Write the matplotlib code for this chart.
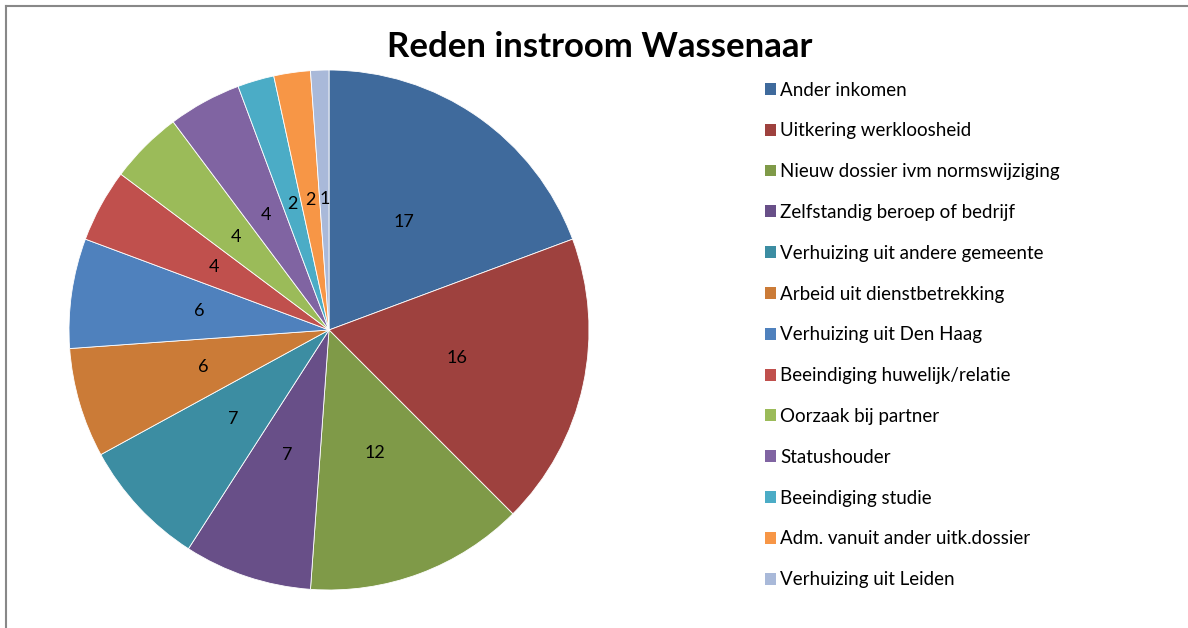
import matplotlib
matplotlib.use('Agg')
import matplotlib.pyplot as plt
from matplotlib.patches import Patch
from matplotlib.lines import Line2D

# ======================
# DATA
# ======================
categories = [
    'Ander inkomen',
    'Uitkering werkloosheid',
    'Nieuw dossier ivm normswijziging',
    'Zelfstandig beroep of bedrijf',
    'Verhuizing uit andere gemeente',
    'Arbeid uit dienstbetrekking',
    'Verhuizing uit Den Haag',
    'Beeindiging huwelijk/relatie',
    'Oorzaak bij partner',
    'Statushouder',
    'Beeindiging studie',
    'Adm. vanuit ander uitk.dossier',
    'Verhuizing uit Leiden',
]
values = [17, 16, 12, 7, 7, 6, 6, 4, 4, 4, 2, 2, 1]

colors = ['#3F6A9C', '#9E413E', '#7F9A48', '#684F88', '#3C8DA2', '#CB7B37',
          '#4F81BD', '#C0504D', '#9BBB59', '#8064A2', '#4BACC6', '#F79646',
          '#A9B9D9']

plt.rcParams['font.family'] = ['Lato', 'DejaVu Sans']

fig = plt.figure(figsize=(11.88, 6.28), dpi=100)
fig.patch.set_facecolor('white')

# frame lines (top and left only, rest is cut off)
fig.add_artist(Line2D([6/1188, 6/1188], [0, 1 - 6/628], color='#888888', lw=1.5))
fig.add_artist(Line2D([6/1188, 1], [1 - 6/628, 1 - 6/628], color='#888888', lw=1.5))

# pie axes: center (329, 330), radius 260 px
cx, cy, r = 329, 330, 260
ax = fig.add_axes([(cx - r) / 1188, (628 - cy - r) / 628, 2 * r / 1188, 2 * r / 628])

wedges, texts = ax.pie(values, colors=colors, startangle=90, counterclock=False,
                       labels=[str(v) for v in values], labeldistance=0.505,
                       wedgeprops=dict(linewidth=0.6, edgecolor='white'),
                       textprops=dict(fontsize=13, color='black'))
for t in texts:
    t.set_horizontalalignment('center')
    t.set_verticalalignment('center')
ax.set_xlim(-1, 1)
ax.set_ylim(-1, 1)
ax.set_aspect('equal')

fig.text(600 / 1188, 1 - 47 / 628, 'Reden instroom Wassenaar', ha='center', va='center',
         fontsize=25, fontweight='bold')

handles = [Patch(facecolor=c, edgecolor='none') for c in colors]
fig.legend(handles, categories, loc='upper left',
           bbox_to_anchor=(757 / 1188, 1 - 74 / 628), frameon=False,
           fontsize=13.5, labelspacing=1.27, handlelength=0.6, handleheight=0.6,
           handletextpad=0.25, borderaxespad=0)

fig.savefig('out.png', dpi=100)
